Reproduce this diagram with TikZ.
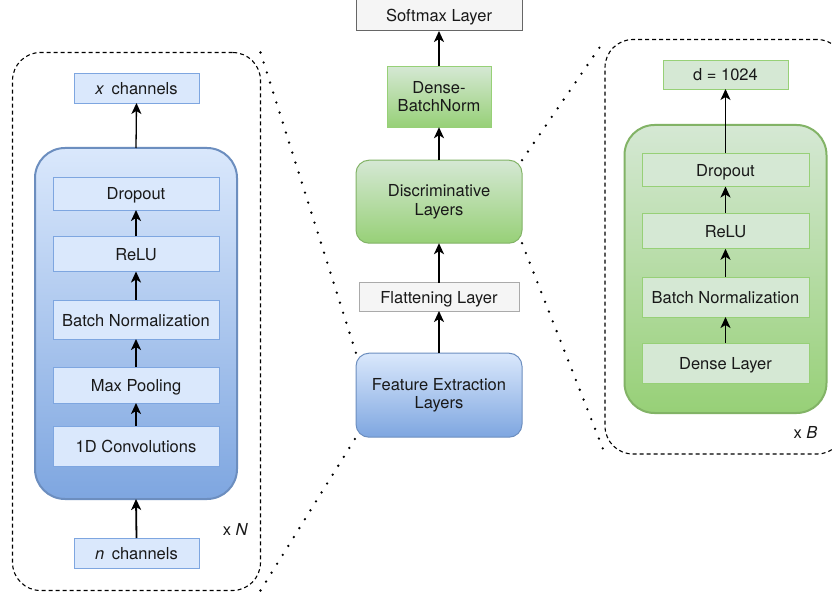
\documentclass[tikz,border=0pt]{standalone}
\usepackage{fontspec}
\setmainfont{TeX Gyre Heros}
\usetikzlibrary{arrows.meta}
\definecolor{bfill}{HTML}{DAE8FC}
\definecolor{bstroke}{HTML}{6C8EBF}
\definecolor{bgrad}{HTML}{7EA6E0}
\definecolor{gfill}{HTML}{D5E8D4}
\definecolor{gstroke}{HTML}{82B366}
\definecolor{ggrad}{HTML}{97D077}
\definecolor{grayfill}{HTML}{F5F5F5}
\definecolor{graystroke}{HTML}{666666}
\definecolor{lgraystroke}{HTML}{AAAAAA}
\begin{document}
\begin{tikzpicture}[x=1pt,y=-1pt,
  every node/.style={inner sep=0pt, outer sep=0pt, font=\fontsize{16.5}{18.5}\selectfont, align=center, text=black!90},
  oneline/.style={text height=16pt, text depth=3pt},
  twoline/.style={yshift=-1.2pt},
  bluebox/.style={oneline, draw=bgrad, fill=bfill, line width=0.9pt},
  greenbox/.style={oneline, draw=ggrad, fill=gfill, line width=0.9pt},
  bluecont/.style={draw=bstroke, line width=2pt, rounded corners=30pt, top color=bfill, bottom color=bgrad},
  greencont/.style={draw=gstroke, line width=2pt, rounded corners=30pt, top color=gfill, bottom color=ggrad},
  bluemod/.style={twoline, draw=bstroke, line width=1pt, rounded corners=13pt, top color=bfill, bottom color=bgrad},
  greenmod/.style={twoline, draw=gstroke, line width=1pt, rounded corners=13pt, top color=gfill, bottom color=ggrad},
  greengrad/.style={twoline, draw=ggrad, line width=1pt, top color=gfill, bottom color=ggrad},
  softbox/.style={oneline, draw=graystroke, fill=grayfill, line width=1pt},
  flatbox/.style={oneline, draw=lgraystroke, fill=grayfill, line width=1pt},
  dashbox/.style={draw=black, line width=1.1pt, dash pattern=on 4pt off 3pt, rounded corners=28pt},
  arr/.style={-{Stealth[length=11pt,width=10pt,inset=3pt]}, line width=1.8pt},
  thinarr/.style={-{Stealth[length=11pt,width=10pt,inset=3pt]}, line width=1.3pt},
  dotline/.style={line width=2.6pt, line cap=round, dash pattern=on 0pt off 10.5pt},
  plain/.style={oneline}
]
\useasboundingbox (0,0) rectangle (833,596);
\fill[white] (0,0) rectangle (833,596);
\clip (0,0) rectangle (833,596);

% ---------- left expansion ----------
\node[dashbox, minimum width=248pt, minimum height=538pt] (leftdash) at (136.5,321.5) {};
\node[bluecont, minimum width=202pt, minimum height=351pt] (bluebig) at (136,323.5) {};
\node[bluebox, minimum width=125pt, minimum height=30pt] (xch) at (136.5,88) {\textit{x}\hspace{0.45em}channels};
\node[bluebox, minimum width=166pt, minimum height=33pt] (dropL) at (136,193.5) {Dropout};
\node[bluebox, minimum width=166pt, minimum height=35pt] (reluL) at (136,254) {ReLU};
\node[bluebox, minimum width=166pt, minimum height=39pt] (bnL) at (136,319.5) {Batch Normalization};
\node[bluebox, minimum width=166pt, minimum height=36pt] (mpL) at (136,385) {Max Pooling};
\node[bluebox, minimum width=166pt, minimum height=40pt] (convL) at (136,446) {1D Convolutions};
\node[bluebox, minimum width=125pt, minimum height=30pt] (nch) at (136.5,553) {\textit{n}\hspace{0.45em}channels};
\node[plain] (xN) at (235.5,529) {x \textit{N}};

\draw[thinarr] (bluebig.north) -- (xch.south);
\draw[arr] (convL.north) -- (mpL.south);
\draw[arr] (mpL.north) -- (bnL.south);
\draw[arr] (bnL.north) -- (reluL.south);
\draw[arr] (reluL.north) -- (dropL.south);
\draw[arr] (nch.north) -- (bluebig.south);

% ---------- middle column ----------
\node[softbox, minimum width=166pt, minimum height=32pt] (soft) at (439,15) {Softmax Layer};
\node[greengrad, minimum width=104pt, minimum height=61pt] (dbn) at (439,95.5) {Dense-\\BatchNorm};
\node[greenmod, minimum width=166pt, minimum height=83pt] (disc) at (439,200.5) {Discriminative\\Layers};
\node[flatbox, minimum width=160pt, minimum height=28pt] (flat) at (439,297) {Flattening Layer};
\node[bluemod, minimum width=166pt, minimum height=84pt] (feat) at (439,394) {Feature Extraction\\Layers};

\draw[arr] (feat.north) -- (flat.south);
\draw[arr] (flat.north) -- (disc.south);
\draw[arr] (disc.north) -- (dbn.south);
\draw[arr] (dbn.north) -- (soft.south);

% ---------- right expansion ----------
\node[dashbox, minimum width=240pt, minimum height=414.5pt] (rightdash) at (725,246.75) {};
\node[greencont, minimum width=202pt, minimum height=288pt] (greenbig) at (725.5,269) {};
\node[greenbox, minimum width=125pt, minimum height=29pt] (dout) at (725.5,74.5) {d = 1024};
\node[greenbox, minimum width=167pt, minimum height=33pt] (dropR) at (725.5,170) {Dropout};
\node[greenbox, minimum width=167pt, minimum height=35.5pt] (reluR) at (725.5,231) {ReLU};
\node[greenbox, minimum width=167pt, minimum height=40pt] (bnR) at (725.5,297) {Batch Normalization};
\node[greenbox, minimum width=167pt, minimum height=40pt] (denseR) at (725.5,363) {Dense Layer};
\node[plain] (xB) at (805.5,432) {x \textit{B}};

\draw[thinarr] (dropR.north) -- (dout.south);
\draw[arr] (reluR.north) -- (dropR.south);
\draw[arr] (bnR.north) -- (reluR.south);
\draw[arr] (denseR.north) -- (bnR.south);

% ---------- zoom lines ----------
\draw[dotline] (leftdash.north east) -- (feat.north west);
\draw[dotline] (leftdash.south east) -- (feat.south west);
\draw[dotline] (disc.north east) -- (rightdash.north west);
\draw[dotline] (disc.south east) -- (rightdash.south west);
\end{tikzpicture}
\end{document}
